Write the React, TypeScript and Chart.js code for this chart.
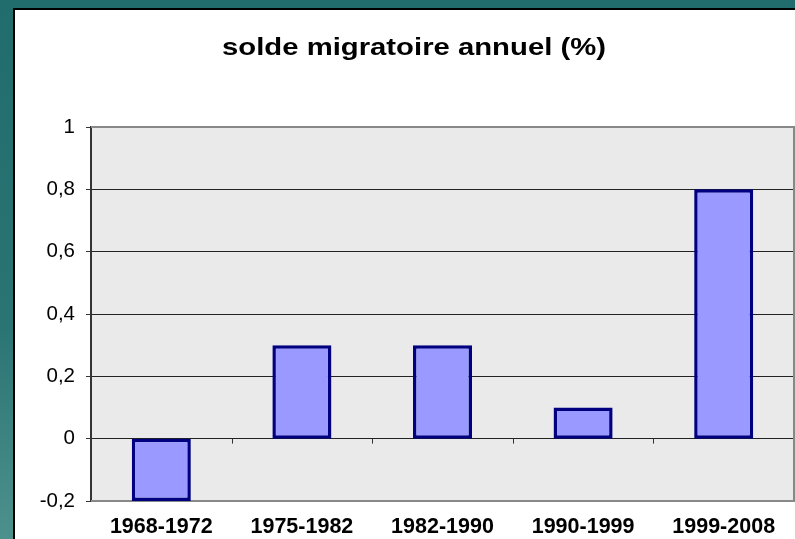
import React, { useEffect, useRef } from "react";
import { Chart, registerables } from "chart.js";

Chart.register(...registerables);

const titleText = "solde migratoire annuel (%)";
const categories = ["1968-1972", "1975-1982", "1982-1990", "1990-1999", "1999-2008"];
const migrationValues = [-0.2, 0.3, 0.3, 0.1, 0.8];
const yMin = -0.2;
const yMax = 1;
const yStep = 0.2;

const FONT = "'Liberation Sans', Arial, sans-serif";

const plotPlugin = {
  id: "plotBg",
  beforeDraw(chart: any) {
    const { ctx, chartArea: a } = chart;
    ctx.save();
    ctx.fillStyle = "#eaeaea";
    ctx.fillRect(a.left, a.top, a.right - a.left, a.bottom - a.top);
    ctx.restore();
  },
  beforeDatasetsDraw(chart: any) {
    const { ctx, chartArea: a, scales } = chart;
    ctx.save();
    ctx.strokeStyle = "#888888";
    ctx.lineWidth = 2;
    ctx.beginPath();
    ctx.moveTo(a.left, a.top);
    ctx.lineTo(a.right, a.top);
    ctx.lineTo(a.right, a.bottom);
    ctx.lineTo(a.left, a.bottom);
    ctx.stroke();
    // category tick marks on the zero line
    const x = scales.x;
    const y0 = scales.y.getPixelForValue(0);
    ctx.strokeStyle = "#333333";
    ctx.lineWidth = 1;
    ctx.beginPath();
    for (let i = 1; i < categories.length; i++) {
      const px = Math.round((x.getPixelForValue(i - 1) + x.getPixelForValue(i)) / 2) + 0.5;
      ctx.moveTo(px, y0);
      ctx.lineTo(px, y0 + 5);
    }
    ctx.stroke();
    ctx.restore();
  },
  afterDraw(chart: any) {
    // chart title (drawn slightly widened, as in the original picture)
    const { ctx } = chart;
    ctx.save();
    ctx.font = `bold 24px ${FONT}`;
    ctx.fillStyle = "#000";
    ctx.textAlign = "center";
    ctx.textBaseline = "alphabetic";
    ctx.translate(414, 55);
    ctx.scale(1.22, 1);
    ctx.fillText(titleText, 0, 0);
    ctx.restore();
  },
};

export default function App() {
  const ref = useRef<HTMLCanvasElement>(null);
  useEffect(() => {
    if (!ref.current) return;
    const chart = new Chart(ref.current, {
      type: "bar",
      data: {
        labels: categories,
        datasets: [
          {
            data: migrationValues,
            backgroundColor: "#9999ff",
            borderColor: "#000080",
            borderWidth: 3.5,
            borderSkipped: false,
            categoryPercentage: 1,
            barPercentage: 0.42,
          },
        ],
      },
      options: {
        animation: false,
        responsive: false,
        maintainAspectRatio: false,
        layout: { padding: { left: 0, right: 1, top: 127, bottom: 0 } },
        plugins: {
          legend: { display: false },
          tooltip: { enabled: false },
          title: { display: false },
        },
        scales: {
          x: {
            afterFit(scale: any) {
              scale.height = 38;
            },
            grid: { display: false, drawTicks: false },
            border: { display: false },
            ticks: {
              color: "#000",
              padding: 13,
              font: { family: FONT, size: 21.5, weight: "bold" },
              maxRotation: 0,
            },
          },
          y: {
            min: yMin,
            max: yMax,
            afterFit(scale: any) {
              scale.width = 91;
            },
            grid: {
              color: (c: any) => {
                const v = c.tick ? c.tick.value : 0;
                return Math.abs(v - yMax) < 1e-6 || Math.abs(v - yMin) < 1e-6 ? "rgba(0,0,0,0)" : "#222222";
              },
              tickColor: "#333333",
              tickLength: 5,
              lineWidth: 1,
            },
            border: { display: true, color: "#333333", width: 2 },
            ticks: {
              stepSize: yStep,
              color: "#000",
              padding: 11,
              font: { family: FONT, size: 20.5 },
              callback: (v: any) => String(Number(Number(v).toFixed(1))).replace(".", ","),
            },
          },
        },
      },
      plugins: [plotPlugin],
    });
    return () => chart.destroy();
  }, []);

  return (
    <div
      style={{
        position: "fixed",
        left: 0,
        top: 0,
        width: 795,
        height: 539,
        overflow: "hidden",
        background: "linear-gradient(180deg, #216c6c 0%, #2a7474 60%, #4d918c 100%)",
      }}
    >
      <div
        style={{
          position: "absolute",
          left: 13,
          top: 8,
          width: 840,
          height: 560,
          background: "#fff",
          borderLeft: "2px solid #000",
          borderTop: "2px solid #000",
        }}
      />
      <canvas ref={ref} width={795} height={539} style={{ position: "absolute", left: 0, top: 0, width: 795, height: 539 }} />
    </div>
  );
}
